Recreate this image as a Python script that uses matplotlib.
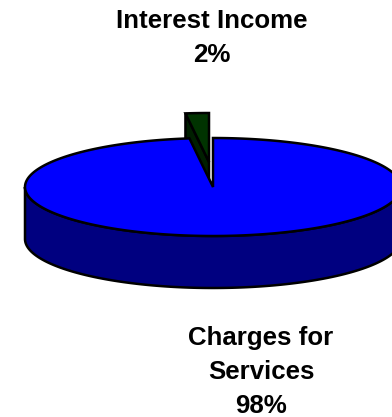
import numpy as np
import matplotlib
matplotlib.use("Agg")
import matplotlib.pyplot as plt
from matplotlib.patches import Polygon

plt.rcParams['font.family'] = ['Liberation Sans', 'DejaVu Sans']

categories = ["Charges for\nServices", "Interest Income"]
shares = [98, 2]

# pie geometry, in image pixels
cx, cy = 213, 187
rx, ry = 188, 49
depth = 52
slice_dx, slice_dy = -4, -25

BLUE = "#0000ff"
NAVY = "#000080"
GREEN = "#003300"
GREEN_SIDE = "#001f00"
LW = 1.8


def rim(t, x0=cx, y0=cy):
    return np.column_stack([x0 + rx * np.cos(t), y0 - ry * np.sin(t)])


fig = plt.figure(figsize=(3.92, 4.17), dpi=100)
ax = fig.add_axes([0, 0, 1, 1])
ax.set_xlim(0, 392)
ax.set_ylim(417, 0)
ax.axis("off")

# the small slice is pulled out of the pie, its cut face shows in the notch
sweep = 2 * np.pi * shares[1] / sum(shares)
start = np.pi / 2
t_small = np.linspace(start, start + sweep, 12)
ax_small = cx + slice_dx, cy + slice_dy
small_top = rim(t_small, *ax_small)
apex = np.array([ax_small])

side = np.vstack([apex, small_top[-1:], small_top[-1:] + [0, depth], apex + [0, depth]])
ax.add_patch(Polygon(side, closed=True, fc=GREEN_SIDE, ec="black", lw=LW, zorder=1))
ax.add_patch(Polygon(np.vstack([apex, small_top]), closed=True, fc=GREEN, ec="black", lw=LW, zorder=2))

# outer wall of the big slice
t_wall = np.linspace(np.pi, 2 * np.pi, 200)
wall = np.vstack([rim(t_wall), rim(t_wall[::-1]) + [0, depth]])
ax.add_patch(Polygon(wall, closed=True, fc=NAVY, ec="black", lw=LW, zorder=3))

# top face of the big slice, everything but the notch
t_big = np.linspace(start + sweep, start + 2 * np.pi, 400)
big_top = np.vstack([[[cx, cy]], rim(t_big)])
ax.add_patch(Polygon(big_top, closed=True, fc=BLUE, ec="black", lw=LW, zorder=4))

txt = dict(ha="center", va="center", fontsize=18.6, fontweight="bold", color="black", zorder=5)
ax.text(212, 38, f"{categories[1]}\n{shares[1]}%", linespacing=1.52, **txt)
ax.text(261, 372, f"{categories[0]}\n{shares[0]}%", linespacing=1.52, **txt)

fig.savefig("out.png", dpi=100)
